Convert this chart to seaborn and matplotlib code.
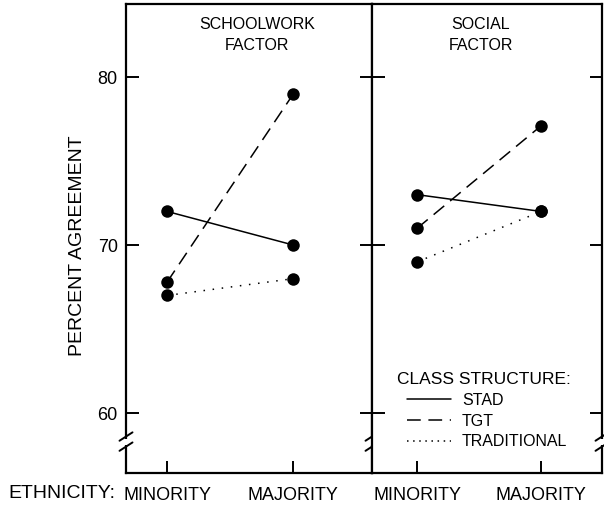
import pandas as pd
import matplotlib.pyplot as plt
import seaborn as sns
from matplotlib.lines import Line2D

sns.set_style('white')
plt.rcParams['font.family'] = ['Liberation Sans', 'DejaVu Sans']
plt.rcParams['text.color'] = 'black'
plt.rcParams['axes.labelcolor'] = 'black'

# values
ethnicity = ['MINORITY', 'MAJORITY']
structures = ['STAD', 'TGT', 'TRADITIONAL']
schoolwork = {'STAD': [72.0, 70.0], 'TGT': [67.8, 79.0], 'TRADITIONAL': [67.0, 68.0]}
social = {'STAD': [73.0, 72.0], 'TGT': [71.0, 77.1], 'TRADITIONAL': [69.0, 72.0]}
yticks = [60, 70, 80]

rows = []
for panel, vals in [('SCHOOLWORK\nFACTOR', schoolwork), ('SOCIAL\nFACTOR', social)]:
    for s in structures:
        for i, e in enumerate(ethnicity):
            rows.append({'panel': panel, 'structure': s, 'x': i, 'pct': vals[s][i]})
df = pd.DataFrame(rows)

dash_map = {'STAD': '', 'TGT': (9, 5), 'TRADITIONAL': (1, 5)}
marker_map = {'STAD': 'o', 'TGT': 'o', 'TRADITIONAL': 'o'}

fig = plt.figure(figsize=(6.04, 5.08), dpi=100)
ax1 = fig.add_axes([126/604, 35/508, 246/604, 469/508])
ax2 = fig.add_axes([372/604, 35/508, 230/604, 469/508])

panels = [(ax1, 'SCHOOLWORK\nFACTOR', (-0.326, 1.623), 0.533),
          (ax2, 'SOCIAL\nFACTOR', (-0.364, 1.491), 0.474)]

for ax, name, xlim, tx in panels:
    sub = df[df.panel == name]
    sns.lineplot(data=sub, x='x', y='pct', style='structure', dashes=dash_map,
                 markers=marker_map, color='black', lw=1.1, markersize=9,
                 markeredgewidth=0, estimator=None, legend=False, ax=ax)
    ax.set_xlim(*xlim)
    ax.set_ylim(56.43, 84.35)
    ax.set_xlabel('')
    ax.set_ylabel('')
    ax.set_yticks(yticks)
    ax.set_xticks([0, 1])
    ax.set_xticklabels(ethnicity)
    ax.tick_params(direction='in', length=9, width=1.4, colors='black',
                   labelsize=13, left=True, right=True, bottom=True, top=False)
    ax.tick_params(axis='x', pad=10)
    ax.tick_params(axis='y', pad=6)
    for sp in ax.spines.values():
        sp.set_linewidth(1.6)
        sp.set_color('black')
    ax.text(tx, 0.934, name, transform=ax.transAxes, ha='center', va='center',
            fontsize=11.5, linespacing=1.5, color='black')

ax2.tick_params(axis='y', labelleft=False)


# axis break marks on the vertical spines
def break_mark(ax, xpos):
    w = ax.get_position().width * 604
    dx = 6.5 / w
    tr = ax.get_yaxis_transform()
    ax.plot([xpos, xpos], [58.12, 58.45], color='white', lw=4, transform=tr,
            clip_on=False, zorder=5, solid_capstyle='butt')
    for yc in [58.6, 58.0]:
        ax.plot([xpos - dx, xpos + dx], [yc - 0.25, yc + 0.25], color='black',
                lw=1.4, transform=tr, clip_on=False, zorder=6)


break_mark(ax1, 0)
break_mark(ax1, 1)
break_mark(ax2, 1)

fig.text(77/604, 1 - 246/508, 'PERCENT AGREEMENT', rotation=90, ha='center',
         va='center', fontsize=14)
fig.text(8/604, 1 - 494/508, 'ETHNICITY:', ha='left', va='center', fontsize=14)

# legend
fig.text(397/604, 1 - 379/508, 'CLASS STRUCTURE:', ha='left', va='center',
         fontsize=12.5)
handles = [Line2D([], [], color='black', lw=1.1, linestyle='-'),
           Line2D([], [], color='black', lw=1.1, linestyle=(0, (9, 5))),
           Line2D([], [], color='black', lw=1.1, linestyle=(0, (1, 3)))]
leg = ax2.legend(handles, structures, frameon=False,
                 loc='upper left', bbox_to_anchor=(407/604, 1 - 393/508),
                 bbox_transform=fig.transFigure, fontsize=11.5,
                 handlelength=2.75, handletextpad=0.7, labelspacing=0.35,
                 borderpad=0, borderaxespad=0)
for t in leg.get_texts():
    t.set_color('black')

fig.savefig('out.png', dpi=100)
